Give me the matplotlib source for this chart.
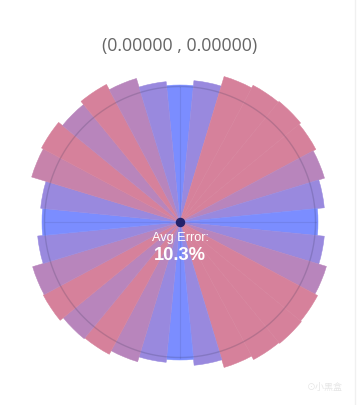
import numpy as np
import matplotlib
matplotlib.use("Agg")
import matplotlib.pyplot as plt
from matplotlib.colors import LinearSegmentedColormap, Normalize
from matplotlib.lines import Line2D

# ---- data ----
sector_angles_deg = [0, 11.25, 22.5, 33.75, 45, 56.25, 67.5, 78.75,
                     90, 101.25, 112.5, 123.75, 135, 146.25, 157.5, 168.75,
                     180, 191.25, 202.5, 213.75, 225, 236.25, 247.5, 258.75,
                     270, 281.25, 292.5, 303.75, 315, 326.25, 337.5, 348.75]
radii = [137, 142, 152, 155, 156, 154, 151, 145,
         138, 145, 153, 156, 157, 156, 152, 144,
         138, 141, 146, 150, 151, 155, 154, 143,
         138, 140, 155, 157, 152, 156, 150, 141]
errors = [3, 7, 15, 15, 15, 15, 11, 7,
          3, 7, 11, 15, 15, 15, 15, 7,
          3, 7, 11, 15, 11, 15, 11, 7,
          3, 7, 13, 15, 11, 15, 11, 7]
title_text = "(0.00000 , 0.00000)"
center_label = "Avg Error:"
center_value = "10.3%"
ref_circle = 135.5
r_max = 160

W, H = 362, 405
fig = plt.figure(figsize=(W / 100, H / 100), dpi=100)
fig.patch.set_facecolor("white")

cx, cy = 180, 405 - 222
ax = fig.add_axes([(cx - r_max) / W, (cy - r_max) / H, 2 * r_max / W, 2 * r_max / H],
                  projection="polar")
ax.set_theta_zero_location("N")
ax.set_theta_direction(-1)
ax.set_ylim(0, r_max)
ax.axis("off")

cmap = LinearSegmentedColormap.from_list("bp", ["#7b8dff", "#d6819b"])
norm = Normalize(vmin=min(errors), vmax=max(errors))
colors = [cmap(norm(e)) for e in errors]

theta = np.deg2rad(sector_angles_deg)
width = 2 * np.pi / len(sector_angles_deg)
ax.bar(theta, radii, width=width, color=colors, edgecolor=colors,
       linewidth=0.35, align="center", zorder=2)

# reference circle and axis lines
tt = np.linspace(0, 2 * np.pi, 500)
ax.plot(tt, np.full_like(tt, ref_circle), color="#333355", alpha=0.2, lw=1.0, zorder=3)
for a in [0, 90, 180, 270]:
    ax.plot([np.deg2rad(a)] * 2, [0, ref_circle], color="#333366", alpha=0.12, lw=0.8, zorder=3)

ax.scatter([0], [0], s=34, color="#23236b", zorder=5)

fig.text(180 / W, 1 - 46 / H, title_text, ha="center", va="center",
         fontsize=12.8, color="#666666", family="Open Sans")
fig.text(180 / W, 1 - 238.5 / H, center_label, ha="center", va="center",
         fontsize=9.2, color="white", family="Liberation Sans")
fig.text(180 / W, 1 - 255 / H, center_value, ha="center", va="center",
         fontsize=13.2, color="white", family="Liberation Sans", weight="bold")

fig.text(325 / W, 1 - 387 / H, "⊙小黑盒", ha="center", va="center", fontsize=6.5,
         color="#e6e6e6", family=["Noto Sans CJK SC", "DejaVu Sans"])
fig.add_artist(Line2D([355 / W, 355 / W], [0, 1], color="#f0f0f0", lw=1))

fig.savefig("out.png", dpi=100, facecolor="white")
